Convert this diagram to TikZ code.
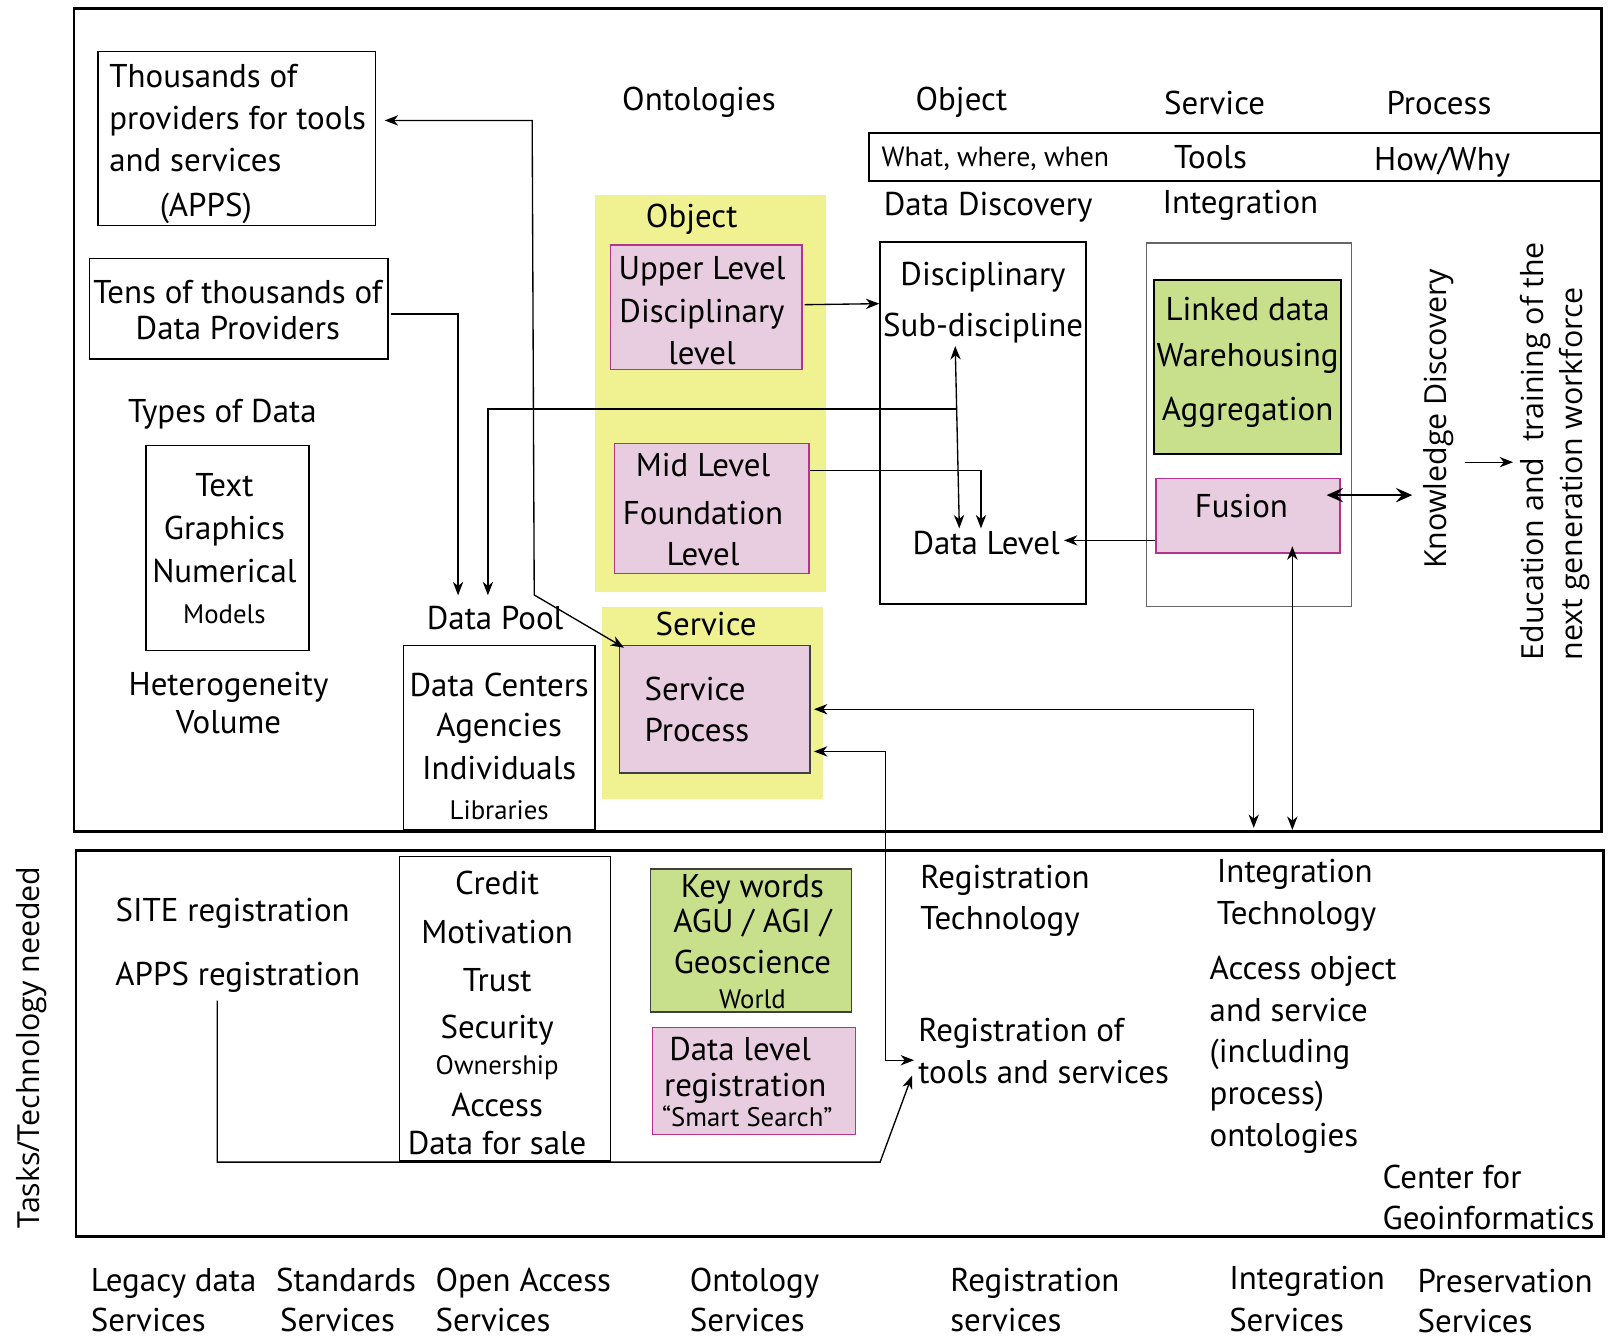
\documentclass[tikz,border=0pt]{standalone}
\usepackage{fontspec}
\setmainfont{PT Sans}
\newfontfamily\rotfont{Open Sans}
\usetikzlibrary{calc,arrows.meta}

\definecolor{panelyellow}{RGB}{240,241,145}
\definecolor{levelpink}{RGB}{232,204,223}
\definecolor{levelrim}{RGB}{178,52,142}
\definecolor{linkgreen}{RGB}{200,224,140}

\newcommand\smalltxt{\fontsize{26}{42}\selectfont}

\tikzset{
  frame/.style={draw, line width=2.5pt, inner sep=0pt},
  box/.style={draw, line width=1.5pt, inner sep=0pt},
  levelbox/.style={box, fill=levelpink, draw=levelrim},
  panel/.style={fill=panelyellow, inner sep=0pt},
  txt/.style={font=\fontsize{32}{42}\selectfont, inner sep=0pt},
  rot/.style={rotate=90, inner sep=0pt, font=\rotfont\fontsize{29.5}{38}\selectfont},
  link/.style={line width=1.3pt, >={Stealth[length=13pt,width=10pt,inset=4pt]}},
  boldlink/.style={line width=2pt, >={Stealth[length=16pt,width=14pt,inset=6pt]}}
}

\begin{document}
\begin{tikzpicture}[x=1pt,y=-1pt]
\useasboundingbox (0,0) rectangle (1568,1302);

% yellow panels
\node[panel, minimum width=224pt, minimum height=386pt] (objpanel) at (690,382) {};
\node[panel, minimum width=215pt, minimum height=186pt] (srvpanel) at (692.5,683) {};

% header strip and frames
\node[box, minimum width=712pt, minimum height=47pt] (strip) at (1200,152.5) {};
\node[frame, minimum width=1484pt, minimum height=800pt] (upperframe) at (814,408) {};
\node[frame, minimum width=1484pt, minimum height=375pt] (lowerframe) at (816,1013.5) {};

% boxes
\node[box, minimum width=270pt, minimum height=169pt] (thousands) at (230,134.5) {};
\node[box, minimum width=290pt, minimum height=98pt] (tens) at (232,300) {};
\node[box, minimum width=158pt, minimum height=199pt] (types) at (221,532.5) {};
\node[box, minimum width=186pt, minimum height=179pt] (centers) at (485,716.5) {};
\node[levelbox, minimum width=186pt, minimum height=121pt] (upper) at (686,298.5) {};
\node[levelbox, minimum width=189pt, minimum height=126pt] (mid) at (691.5,494) {};
\node[levelbox, draw=darkgray, minimum width=185pt, minimum height=124pt] (service) at (694.5,689) {};
\node[box, minimum width=200pt, minimum height=352pt] (discipline) at (955,411) {};
\node[box, draw=gray!80!black, minimum width=199pt, minimum height=353pt] (integ) at (1213.5,412.5) {};
\node[box, fill=linkgreen, minimum width=182pt, minimum height=169pt] (linked) at (1212,356.5) {};
\node[levelbox, minimum width=179pt, minimum height=72pt] (fusion) at (1212.5,501) {};
\node[box, minimum width=205pt, minimum height=296pt] (credit) at (490.5,980) {};
\node[box, fill=linkgreen, draw=darkgray, minimum width=195pt, minimum height=139pt] (keywords) at (729.5,913.5) {};
\node[levelbox, minimum width=197pt, minimum height=104pt] (datareg) at (732.5,1050) {};

% header texts
\node[txt] (ontol) at (679,99) {Ontologies};
\node[txt] (hobj) at (934,99) {Object};
\node[txt] (hsrv) at (1180,100) {Service};
\node[txt] (hproc) at (1398,100) {Process};
\node[txt, font=\fontsize{27}{36}\selectfont] (what) at (967,154) {What, where, when};
\node[txt] (tools) at (1176,153) {Tools};
\node[txt] (how) at (1401,158) {How/Why};
\node[txt] (discov) at (960,201) {Data Discovery};
\node[txt] (integr) at (1205,199) {Integration};

% left column texts
\node[txt, anchor=west, align=left] (thousandstxt) at (106,140) {Thousands of\\[-1pt]providers for tools\\[-1pt]and services\\[2pt]\hspace*{49pt}(APPS)};
\node[txt, align=center] (tenstxt) at (231,301) {Tens of thousands of\\[-7pt]Data Providers};
\node[txt] (typeslbl) at (216,402) {Types of Data};
\node[txt, align=center] (typestxt) at (218,533) {Text\\Graphics\\Numerical\\[-2pt]{\smalltxt Models}};
\node[txt, align=center] (hetero) at (222,683) {Heterogeneity\\[-6pt]Volume};
\node[txt] (pool) at (481,600) {Data Pool};
\node[txt, align=center] (centerstxt) at (485,725) {Data Centers\\[-3pt]Agencies\\Individuals\\[-4pt]{\smalltxt Libraries}};

% ontology panels
\node[txt] (objlbl) at (672,213) {Object};
\node[txt, align=center] (uppertxt) at (682,302) {Upper Level\\Disciplinary\\[-1pt]level};
\node[txt, align=center] (midtxt) at (683,495) {Mid Level\\[4pt]Foundation\\[-2pt]Level};
\node[txt] (srvlbl) at (686,606) {Service};
\node[txt, anchor=west, align=left] (servicetxt) at (626,689) {Service\\[-2pt]Process};

% discovery and integration
\node[txt, align=center] (disctxt) at (955,294) {Disciplinary\\[7pt]Sub-discipline};
\node[txt] (datalvl) at (958,528) {Data Level};
\node[txt, align=center] (linkedtxt) at (1212,352) {Linked data\\[3pt]Warehousing\\[10pt]Aggregation};
\node[txt] (fusiontxt) at (1206,492) {Fusion};
\node[rot] (knowl) at (1398,407) {Knowledge Discovery};
\node[rot, align=left] (educ) at (1511,438.5) {Education and\ \ training of the\\next generation workforce};

% tasks row
\node[rot] (tasks) at (31,1017.5) {Tasks/Technology needed};
\node[txt] (site) at (226,887) {SITE registration};
\node[txt] (appsreg) at (231,949) {APPS registration};
\node[txt, align=center] (credittxt) at (483,984) {Credit\\[5pt]Motivation\\[5pt]Trust\\[4pt]Security\\[-7pt]{\smalltxt Ownership}\\[-2pt]Access\\[-5pt]Data for sale};
\node[txt, align=center] (keywordstxt) at (731,915) {Key words\\[-8pt]AGU / AGI /\\[-2pt]Geoscience\\[-8pt]{\smalltxt World}};
\node[txt, anchor=west, align=left] (dataregtxt) at (643,1051) {\hspace*{7pt}Data level\\[-7pt]\hspace*{2pt}registration\\[-13pt]{\smalltxt “Smart Search”}};
\node[txt, anchor=west, align=left] (regtech) at (894,875) {Registration\\[-2pt]Technology};
\node[txt, anchor=west, align=left] (regtools) at (892,1021) {Registration of\\[-2pt]tools and services};
\node[txt, anchor=west, align=left] (integtech) at (1182,870) {Integration\\[-1pt]Technology};
\node[txt, anchor=west, align=left] (access) at (1175,1025) {Access object\\[-2pt]and service\\[-2pt](including\\[-1pt]process)\\[-1pt]ontologies};
\node[txt, anchor=west, align=left] (centergeo) at (1343,1163) {Center for\\[-2pt]Geoinformatics};

% services row
\node[txt, anchor=west, align=left] (legacy) at (88,1263) {Legacy data\\[-3pt]Services};
\node[txt, anchor=west, align=left] (standards) at (268,1263) {Standards\\[-3pt]\hspace*{4pt}Services};
\node[txt, anchor=west, align=left] (openacc) at (423,1263) {Open Access\\[-3pt]Services};
\node[txt, anchor=west, align=left] (ontserv) at (670,1263) {Ontology\\[-3pt]Services};
\node[txt, anchor=west, align=left] (regserv) at (923,1263) {Registration\\[-3pt]services};
\node[txt, anchor=west, align=left] (integserv) at (1194,1262) {Integration\\[-2pt]Services};
\node[txt, anchor=west, align=left] (preserv) at (1377,1264) {Preservation\\[-3pt]Services};

% connectors
\draw[link,<->] ($(thousands.east)+(8,-17.5)$) -- (517,117) -- (519,578) -- ($(service.north west)+(5,3)$);
\draw[link,->] ($(tens.east)+(2,5)$) -| ($(pool.north)+(-36,-10)$);
\draw[link,<->] ($(disctxt.south)+(-27,3)$) -- coordinate[pos=0.345] (junc) ($(datalvl.north)+(-26,-3)$);
\draw[link,->] (junc) -| ($(pool.north)+(-7,-10)$);
\draw[link,->] ($(mid.east)+(0,-37)$) -| ($(datalvl.north)+(-5,-3)$);
\draw[link,->] ($(upper.east)+(2,-2.5)$) -- ($(discipline.west)+(0,-116)$);
\draw[link,->] ($(fusion.west)+(0,24)$) -- ($(datalvl.east)+(4,-3)$);
\draw[boldlink,<->] ($(fusion.east)+(-14,-20)$) -- ($(knowl.north)+(-11,74)$);
\draw[link,->] ($(knowl.south)+(10,42)$) -- ($(educ.north)+(-7,10.5)$);
\draw[link,<->] ($(service.east)+(3,0)$) -| ($(upperframe.south)+(404,-5)$);
\draw[link,<->] ($(fusion.south)+(43,-7)$) -- ($(fusion.south |- upperframe.south)+(43,-3)$);
\draw[link,<->] ($(service.east)+(3,41)$) -| (860,1030) -- ($(regtools.west)+(-4,9)$);
\draw[link,->] ($(appsreg.south)+(-20,8)$) |- (855,1129) -- ($(regtools.west)+(-6,24)$);

\end{tikzpicture}
\end{document}
